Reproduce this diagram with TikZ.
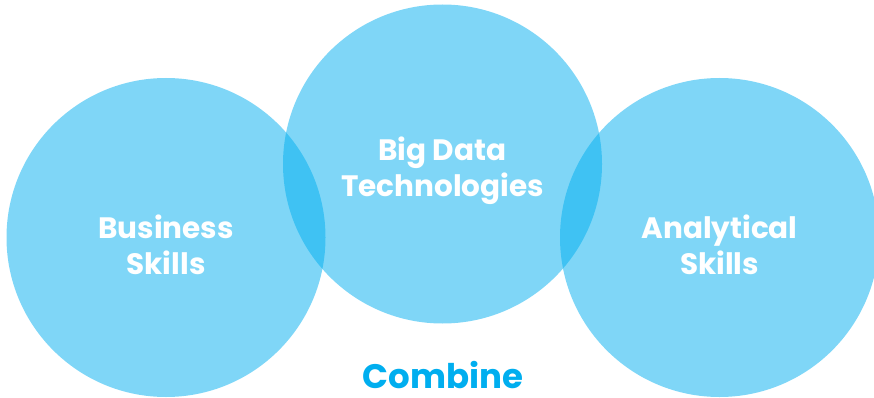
\documentclass[tikz,border=0pt]{standalone}
\usepackage{fontspec}
\setmainfont{Poppins}
\definecolor{skillblue}{HTML}{00AEEF}
\begin{document}
\begin{tikzpicture}[x=1pt,y=-1pt,
  skill/.style={circle,fill=skillblue,fill opacity=.5,minimum size=319pt,inner sep=0pt},
  skilltext/.style={text=white,font=\bfseries\fontsize{29.5}{36}\selectfont,align=center}]
  \useasboundingbox (0,0) rectangle (874,398);
  % circles
  \node[skill] (business) at (166,237.5) {};
  \node[skill] (bigdata) at (442.5,164) {};
  \node[skill] (analytic) at (719.5,237.5) {};
  % texts
  \node[skilltext] (businesstext) at ([yshift=-7pt]business.center) {Business\\Skills};
  \node[skilltext] (bigdatatext) at ([yshift=-7pt]bigdata.center) {Big Data\\Technologies};
  \node[skilltext] (analytictext) at ([yshift=-7pt]analytic.center) {Analytical\\Skills};
  \node[text=skillblue,font=\bfseries\fontsize{34}{40}\selectfont,anchor=base,inner sep=0pt] (combine) at (443,388.5) {Combine};
\end{tikzpicture}
\end{document}
